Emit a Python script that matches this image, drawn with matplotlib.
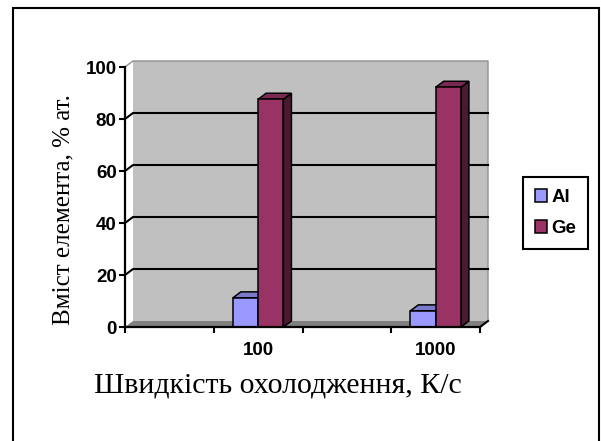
import numpy as np
import matplotlib.pyplot as plt
from matplotlib.patches import Polygon, Rectangle

# Element content (at. %) for each cooling-rate slot; blank slots have no bars
tick_labels = ["", "100", "", "1000"]
al_content = [np.nan, 11.2, np.nan, 6.2]
ge_content = [np.nan, 87.6, np.nan, 92.2]
series_names = ["Al", "Ge"]

# Excel-like palette
front_colors = ["#9999FF", "#993366"]
top_colors = ["#7A7ACC", "#7A2952"]
side_colors = ["#5C5C99", "#4C1933"]
wall_color = "#C0C0C0"
floor_color = "#808080"

plt.rcParams['font.family'] = ['Liberation Sans', 'DejaVu Sans']

fig = plt.figure(figsize=(6.01, 4.41), dpi=100)
ax = fig.add_axes([125 / 601, 1 - 327 / 441, 355 / 601, 260 / 441])

n = len(tick_labels)
x = np.arange(n)
ax.set_xlim(-0.5, n - 0.5)
ax.set_ylim(0, 100)

# depth of the 3D box, converted from pixels to data units
depth_px = (8, 6)
ax_w = ax.get_position().width * fig.get_figwidth() * fig.dpi
ax_h = ax.get_position().height * fig.get_figheight() * fig.dpi
ddx = depth_px[0] * n / ax_w
ddy = depth_px[1] * 100 / ax_h

x0, x1 = -0.5, n - 0.5

# back wall
ax.add_patch(Rectangle((x0 + ddx, ddy), x1 - x0, 100, facecolor=wall_color,
                       edgecolor="none", zorder=0.5, clip_on=False))
ax.plot([x0, x0 + ddx, x1 + ddx, x1 + ddx], [100, 100 + ddy, 100 + ddy, ddy],
        color="#909090", lw=1, zorder=0.6, clip_on=False)

# floor
ax.add_patch(Polygon([(x0, 0), (x1, 0), (x1 + ddx, ddy), (x0 + ddx, ddy)],
                     facecolor=floor_color, edgecolor="none", zorder=0.7,
                     clip_on=False))
ax.plot([x1, x1 + ddx], [0, ddy], color="black", lw=1.5, zorder=0.8,
        clip_on=False)

# gridlines on the wall, joined to the front axis ticks
for v in range(20, 100, 20):
    ax.plot([x0, x0 + ddx, x1 + ddx], [v, v + ddy, v + ddy], color="black",
            lw=1.5, zorder=0.9, clip_on=False)

# 3D columns
bar_w = 0.285
for k, values in enumerate([al_content, ge_content]):
    offset = (k - 0.5) * bar_w
    for xi, val in zip(x, values):
        if np.isnan(val):
            continue
        left = xi + offset - bar_w / 2
        right = left + bar_w
        z = 2 + k
        ax.add_patch(Polygon([(right, 0), (right + ddx, ddy),
                              (right + ddx, val + ddy), (right, val)],
                             facecolor=side_colors[k], edgecolor="black",
                             lw=1.1, zorder=z, clip_on=False))
        ax.add_patch(Polygon([(left, val), (right, val),
                              (right + ddx, val + ddy), (left + ddx, val + ddy)],
                             facecolor=top_colors[k], edgecolor="black",
                             lw=1.1, zorder=z, clip_on=False))
    ax.bar(x + offset, values, width=bar_w, color=front_colors[k],
           edgecolor="black", linewidth=1.1, zorder=2.5 + k,
           label=series_names[k])

# axes styling
for side in ["top", "right"]:
    ax.spines[side].set_visible(False)
for side in ["left", "bottom"]:
    ax.spines[side].set_linewidth(1.6)
    ax.spines[side].set_zorder(5)

ax.set_yticks(range(0, 101, 20))
ax.tick_params(axis="y", direction="out", length=4, width=1.5, pad=2,
               labelsize=13.5)
ax.set_xticks(x)
ax.set_xticklabels(tick_labels)
ax.set_xticks(np.arange(-0.5, n, 1.0), minor=True)
ax.tick_params(axis="x", which="major", length=0, pad=11, labelsize=13.5)
ax.tick_params(axis="x", which="minor", direction="out", length=4, width=1.5)
for lbl in ax.get_xticklabels() + ax.get_yticklabels():
    lbl.set_fontweight("bold")

fig.text(278 / 601, 1 - 385 / 441, "Швидкість охолодження, К/с",
         family="Liberation Serif", fontsize=21.5, ha="center", va="center")
fig.text(63 / 601, 1 - 210 / 441, "Вміст елемента, % ат.",
         family="Liberation Serif", fontsize=18, ha="center", va="center",
         rotation=90)

leg = fig.legend(loc="upper left", bbox_to_anchor=(523 / 601, 1 - 177 / 441),
                 fancybox=False, edgecolor="black", framealpha=1,
                 prop={"weight": "bold", "size": 13.5}, handlelength=0.65,
                 handleheight=0.65, handletextpad=0.2, labelspacing=0.75,
                 borderpad=0.65, borderaxespad=0)
leg.get_frame().set_linewidth(1.5)

# chart border
fig.patches.append(Rectangle((13 / 601, -0.1), 586 / 601, 1.1 - 8 / 441,
                             transform=fig.transFigure, fill=False,
                             edgecolor="black", lw=1.5))

fig.savefig("out.png", dpi=100)
